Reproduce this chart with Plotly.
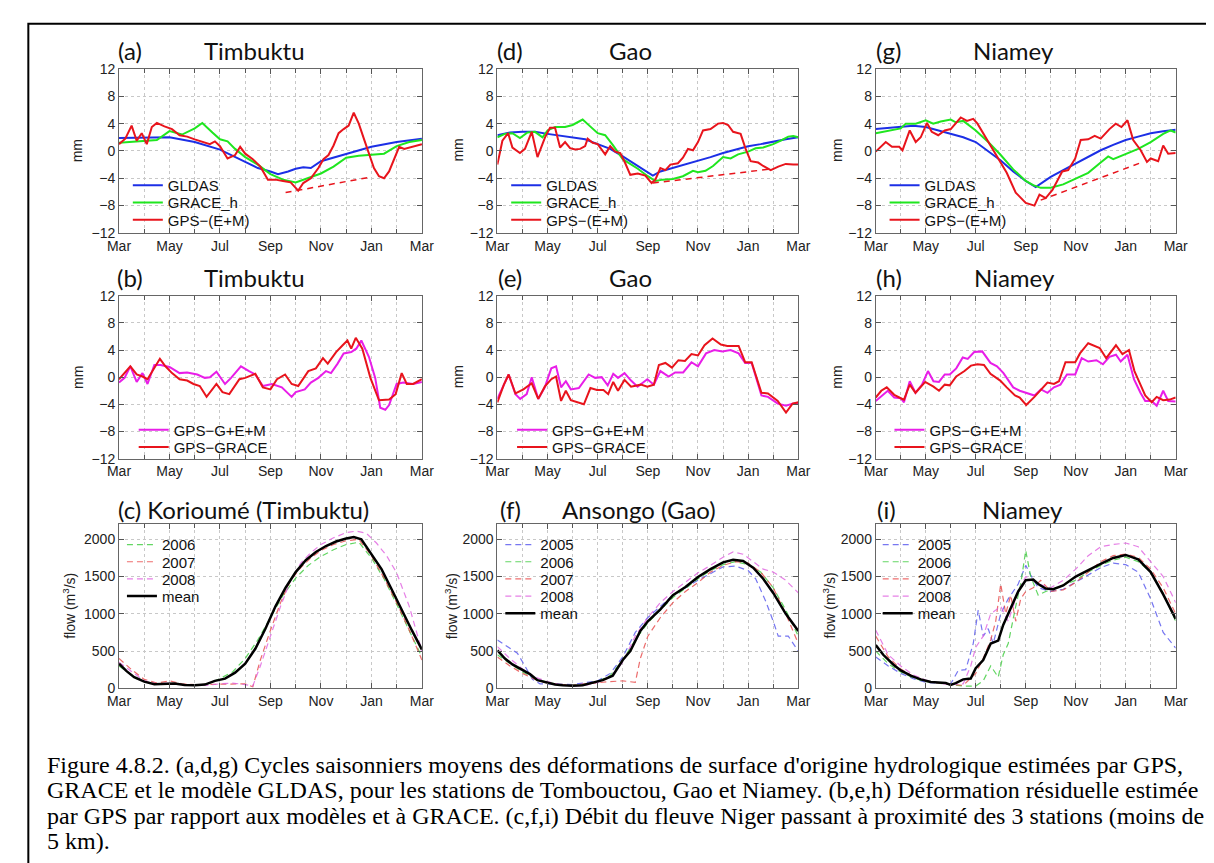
import plotly.graph_objects as go

W, H = 1214, 863

# ---------------- data ----------------
month_ticks = [0, 2, 4, 6, 8, 10, 12]
month_labels = ["Mar", "May", "Jul", "Sep", "Nov", "Jan", "Mar"]
mm_ticks = [-12, -8, -4, 0, 4, 8, 12]
flow_ticks = [0, 500, 1000, 1500, 2000]

# (a) Timbuktu
a_gldas_x = [0, 1, 2, 3, 4, 5, 5.5, 6, 6.3, 6.7, 7, 7.3, 7.6, 8, 9, 10, 11, 12]
a_gldas_y = [1.9, 2.0, 2.0, 1.3, 0.2, -1.6, -2.5, -3.0, -3.4, -3.0, -2.6, -2.4, -2.5, -1.5, -0.4, 0.6, 1.3, 1.8]
a_grace_x = [0, 0.5, 1, 1.5, 2, 2.5, 3, 3.3, 3.7, 4, 4.3, 4.6, 5, 5.5, 6, 6.5, 7, 7.5, 8, 8.5, 9, 9.5, 10, 10.5, 11, 11.5, 12]
a_grace_y = [1.2, 1.3, 1.5, 1.6, 2.9, 2.4, 3.3, 4.1, 2.7, 1.7, 1.4, 0.3, -0.9, -2.0, -3.4, -4.2, -4.6, -4.0, -3.3, -2.3, -1.0, -0.7, -0.5, -0.4, 0.7, 1.3, 1.6]
a_gps_x = [0, 0.25, 0.5, 0.7, 0.9, 1.1, 1.3, 1.5, 1.8, 2.1, 2.4, 2.7, 3.0, 3.3, 3.6, 3.8, 4.0, 4.3, 4.6, 4.8,
           5.0, 5.3, 5.6, 5.9, 6.2, 6.5, 6.8, 7.1, 7.3, 7.6, 7.9, 8.1, 8.3, 8.5, 8.7, 8.9, 9.1, 9.3, 9.5, 9.7,
           9.9, 10.1, 10.3, 10.5, 10.7, 10.9, 11.1, 11.3, 11.6, 12]
a_gps_y = [1.0, 1.8, 3.7, 1.5, 2.6, 1.0, 3.5, 4.1, 3.6, 3.2, 2.3, 2.1, 1.7, 1.3, 1.0, 1.4, 0.7, -1.1, -0.6, 0.6,
           -0.4, -1.2, -2.3, -4.2, -4.2, -4.4, -4.6, -5.8, -4.7, -4.0, -2.5, -1.2, -0.6, 0.8, 2.6, 3.2, 3.7, 5.6, 4.0, 1.8,
           -0.4, -2.5, -3.7, -4.0, -3.0, -1.3, 0.6, 0.3, 0.6, 1.0]
a_trend_x = [6.6, 10.0]
a_trend_y = [-6.1, -3.8]

# (d) Gao
d_gldas_x = [0, 0.5, 1, 1.5, 2, 2.5, 3, 3.5, 4, 4.5, 5, 5.5, 6, 6.2, 6.5, 7, 7.5, 8, 8.5, 9, 9.5, 10, 10.5, 11, 11.5, 12]
d_gldas_y = [2.3, 2.7, 2.8, 2.8, 2.5, 2.2, 2.0, 1.7, 1.0, 0.3, -0.8, -2.0, -3.2, -3.6, -3.0, -2.5, -2.0, -1.4, -0.9, -0.3, 0.2, 0.7, 1.0, 1.4, 1.7, 2.0]
d_grace_x = [0, 0.3, 0.6, 0.9, 1.2, 1.5, 1.8, 2.0, 2.3, 2.7, 3.0, 3.4, 3.7, 4.0, 4.3, 4.6, 5.0, 5.3, 5.6, 6.0,
             6.3, 6.6, 7.0, 7.4, 7.8, 8.0, 8.3, 8.6, 9.0, 9.3, 9.6, 10.0, 10.3, 10.6, 11.0, 11.3, 11.6, 11.8, 12]
d_grace_y = [2.0, 2.5, 2.6, 1.9, 2.7, 2.8, 2.0, 3.0, 3.5, 3.5, 3.8, 4.6, 3.6, 2.6, 2.3, 0.9, -1.2, -1.9, -2.6, -3.7,
             -4.4, -4.2, -4.1, -3.7, -2.9, -3.1, -2.9, -2.2, -0.9, -1.1, -0.5, -0.1, 0.4, 0.5, 1.0, 1.5, 2.1, 2.2, 2.0]
d_gps_x = [0, 0.2, 0.43, 0.6, 0.9, 1.1, 1.37, 1.6, 1.9, 2.1, 2.3, 2.5, 2.7, 2.9, 3.1, 3.3, 3.5, 3.6, 3.8, 4.0,
           4.3, 4.5, 4.7, 4.9, 5.1, 5.3, 5.6, 5.9, 6.15, 6.3, 6.5, 6.7, 6.9, 7.2, 7.4, 7.6, 7.8, 8.0, 8.2, 8.5,
           8.8, 9.0, 9.2, 9.4, 9.7, 9.9, 10.1, 10.4, 10.6, 10.9, 11.2, 11.5, 11.8, 12]
d_gps_y = [-2.0, 1.5, 2.6, 0.5, -0.3, 0.3, 2.8, -0.9, 2.0, 3.4, 3.4, 0.5, 1.3, 0.4, 0.2, 0.3, 0.7, 1.8, 1.2, 1.0,
           -0.5, 0.7, -0.1, -0.3, -1.8, -3.5, -3.3, -3.6, -4.7, -4.2, -2.5, -2.8, -2.0, -1.8, -1.0, 0.3, 0.1, 1.3, 3.0, 3.2,
           4.0, 4.1, 3.8, 2.8, 2.5, 0.3, -1.5, -1.7, -2.2, -2.8, -2.3, -1.9, -2.0, -2.0]
d_trend_x = [6.2, 11.0]
d_trend_y = [-4.7, -2.6]

# (g) Niamey
g_gldas_x = [0, 0.5, 1, 1.5, 2, 2.5, 3, 3.5, 4, 4.5, 5, 5.5, 6, 6.4, 6.7, 7, 7.5, 8, 8.5, 9, 9.5, 10, 10.5, 11, 11.5, 12]
g_gldas_y = [3.2, 3.4, 3.6, 3.7, 3.5, 3.0, 2.6, 2.0, 1.3, -0.1, -1.4, -3.0, -4.4, -5.3, -4.6, -3.8, -2.8, -1.8, -0.8, 0.1, 0.9, 1.6, 2.1, 2.6, 2.9, 3.1]
g_grace_x = [0, 0.5, 1, 1.2, 1.6, 2, 2.3, 2.6, 3, 3.2, 3.5, 4, 4.5, 5, 5.5, 6, 6.3, 6.6, 7, 7.5,
             8, 8.5, 9, 9.3, 9.5, 10, 10.5, 11, 11.5, 11.8, 12]
g_grace_y = [2.6, 2.9, 3.3, 4.0, 4.0, 4.5, 4.0, 4.3, 4.6, 4.2, 4.4, 3.0, 1.3, -0.6, -2.7, -4.4, -5.0, -5.4, -5.4, -4.9,
             -4.0, -3.2, -1.7, -0.8, -1.2, -0.4, 0.3, 1.3, 2.5, 3.0, 2.7]
g_gps_x = [0, 0.4, 0.65, 0.94, 1.07, 1.36, 1.6, 1.8, 2.05, 2.24, 2.5, 2.76, 3.0, 3.4, 3.65, 3.9, 4.07, 4.46, 4.85, 5.24,
           5.6, 6.0, 6.35, 6.55, 6.8, 7.07, 7.46, 7.7, 7.98, 8.2, 8.5, 8.76, 9.0, 9.35, 9.6, 9.83, 10.07, 10.3, 10.6, 10.85,
           11.0, 11.3, 11.5, 11.7, 12]
g_gps_y = [-0.1, 1.3, 0.6, 0.6, 0.1, 3.0, 1.3, 2.0, 4.1, 2.8, 2.3, 3.0, 3.2, 4.9, 4.4, 4.7, 4.0, 1.6, -0.8, -3.2,
           -6.1, -7.6, -8.0, -6.4, -6.9, -5.7, -3.0, -2.8, -1.1, 1.6, 1.7, 2.2, 1.8, 3.2, 4.0, 3.5, 4.5, 1.6, 0.1, -1.6,
           -1.1, -1.5, 0.8, -0.4, -0.3]
g_trend_x = [6.6, 10.7]
g_trend_y = [-7.2, -1.6]

# (b) Timbuktu residuals
b_mag_x = [0, 0.22, 0.45, 0.7, 0.93, 1.13, 1.4, 1.65, 2.0, 2.4, 2.7, 3.1, 3.4, 3.6, 3.86, 4.2, 4.44, 4.83, 5.15, 5.4,
           5.7, 6.06, 6.45, 6.84, 7.0, 7.36, 7.6, 7.9, 8.2, 8.4, 8.66, 8.9, 9.2, 9.4, 9.6, 9.9, 10.15, 10.35, 10.55, 10.7,
           11.0, 11.26, 11.65, 12]
b_mag_y = [-0.8, -0.1, 1.6, -0.7, 0.6, -1.0, 1.8, 1.8, 1.5, 0.6, 0.7, 0.4, -0.1, 0.0, 0.8, -1.0, -0.1, 1.6, 0.9, 0.4,
           -1.3, -1.0, -1.5, -2.9, -2.2, -1.8, -0.8, -0.1, 0.9, 0.6, 2.0, 3.5, 3.7, 4.2, 5.4, 3.0, -0.1, -4.5, -4.8, -4.1,
           -1.0, -0.8, -1.0, -0.7]
b_red_x = [0, 0.45, 0.7, 0.93, 1.13, 1.4, 1.62, 1.84, 2.1, 2.4, 2.7, 2.95, 3.2, 3.47, 3.86, 4.1, 4.37, 4.77, 5.0, 5.4,
           5.7, 6.0, 6.26, 6.58, 6.84, 7.1, 7.5, 7.8, 8.08, 8.27, 8.6, 8.86, 9.05, 9.2, 9.38, 9.64, 9.96, 10.3, 10.7, 10.96,
           11.2, 11.4, 11.65, 12]
b_red_y = [-0.3, 1.6, 0.4, 0.1, -0.3, 1.3, 2.7, 1.6, 0.6, -0.3, -0.5, -1.0, -1.3, -2.9, -1.0, -2.2, -2.5, -0.3, -0.1, 0.5,
           -1.5, -1.8, -0.3, 0.4, -1.0, -1.3, 0.9, 1.3, 2.8, 2.0, 3.7, 4.7, 5.4, 4.2, 5.8, 4.2, -0.1, -3.4, -3.3, -2.5,
           0.6, -1.0, -1.0, -0.3]

# (e) Gao residuals
e_mag_x = [0, 0.26, 0.45, 0.72, 0.91, 1.17, 1.37, 1.63, 1.89, 2.15, 2.34, 2.54, 2.73, 2.93, 3.25, 3.64, 3.9, 4.16, 4.4, 4.62,
           4.81, 5.07, 5.33, 5.59, 5.98, 6.24, 6.5, 6.83, 7.09, 7.41, 7.74, 8.0, 8.32, 8.65, 8.97, 9.3, 9.62, 9.88, 10.14, 10.53,
           10.79, 11.18, 11.51, 11.77, 12]
e_mag_y = [-3.2, -1.1, 0.4, -2.5, -3.2, -2.5, 0.0, -3.2, -1.5, 1.3, 1.6, -1.5, -0.6, -1.8, -1.6, 0.4, -0.1, 0.0, -1.2, 0.5,
           -0.1, 0.6, -0.5, -1.4, -0.3, -1.1, 0.9, 0.1, 0.7, 0.7, 2.2, 1.6, 3.5, 4.0, 3.8, 4.0, 3.5, 2.1, 2.1, -2.7,
           -2.9, -3.9, -4.2, -3.9, -3.8]
e_red_x = [0, 0.26, 0.45, 0.72, 1.04, 1.37, 1.63, 1.89, 2.15, 2.34, 2.54, 2.73, 2.93, 3.45, 3.71, 3.97, 4.23, 4.42, 4.62, 4.81,
           5.07, 5.33, 5.72, 5.98, 6.24, 6.44, 6.7, 6.96, 7.22, 7.48, 7.74, 8.0, 8.26, 8.58, 8.91, 9.17, 9.62, 9.88, 10.14, 10.53,
           10.79, 11.18, 11.51, 11.77, 12]
e_red_y = [-3.7, -1.1, 0.4, -2.4, -1.8, -0.9, -3.2, -1.4, -0.3, 0.1, -3.5, -2.0, -3.4, -4.0, -1.6, -1.9, -1.9, -2.5, -0.7, -2.0,
           -0.4, -1.4, -1.1, -1.4, -1.1, 1.8, 2.1, 1.4, 2.5, 2.4, 3.4, 3.2, 4.7, 5.7, 4.8, 4.6, 4.6, 2.2, 2.2, -2.3,
           -2.4, -3.5, -5.2, -3.9, -3.7]

# (h) Niamey residuals
h_mag_x = [0, 0.29, 0.48, 0.74, 1.0, 1.13, 1.36, 1.59, 1.85, 2.09, 2.31, 2.53, 2.76, 2.96, 3.22, 3.48, 3.68, 3.94, 4.26, 4.59,
           4.85, 5.11, 5.5, 5.76, 6.02, 6.35, 6.61, 6.87, 7.13, 7.39, 7.65, 7.98, 8.24, 8.5, 8.83, 9.09, 9.35, 9.61, 9.8, 10.07,
           10.33, 10.59, 10.78, 11.04, 11.24, 11.5, 11.7, 12]
h_mag_y = [-3.5, -2.6, -2.0, -3.0, -3.1, -3.7, -0.6, -2.3, -1.1, 0.9, -0.6, -0.7, 0.4, 0.4, 1.3, 2.9, 2.7, 3.7, 3.8, 2.1,
           1.6, 0.6, -1.5, -2.0, -2.3, -2.7, -1.8, -2.3, -1.5, -1.1, 0.4, 0.4, 2.8, 2.3, 2.5, 1.9, 3.0, 3.3, 2.3, 3.3,
           -0.3, -2.3, -3.5, -3.5, -4.2, -2.0, -3.5, -3.6]
h_red_x = [0, 0.22, 0.44, 0.74, 1.0, 1.13, 1.36, 1.59, 1.98, 2.31, 2.53, 2.76, 2.96, 3.22, 3.55, 3.81, 4.07, 4.33, 4.59, 4.98,
           5.24, 5.57, 5.76, 6.02, 6.35, 6.61, 6.87, 7.13, 7.33, 7.59, 7.98, 8.17, 8.5, 8.96, 9.22, 9.61, 9.87, 10.13, 10.35, 10.59,
           10.78, 11.04, 11.24, 11.5, 11.76, 12]
h_red_y = [-3.0, -2.0, -1.5, -2.6, -3.1, -3.3, -1.1, -2.3, -0.7, -1.4, -2.0, -1.1, -1.2, 0.1, 0.9, 1.7, 1.9, 1.8, 0.5, -0.5,
           -1.5, -2.7, -3.0, -4.1, -2.9, -1.9, -0.8, -1.0, -0.6, 2.2, 2.2, 3.5, 5.0, 4.3, 2.8, 4.7, 3.4, 4.0, 0.9, -1.1,
           -2.7, -3.7, -2.9, -3.4, -3.3, -3.0]

# (c) Korioume flow
c_mean_x = [0, 0.3, 0.6, 1.0, 1.4, 1.8, 2.2, 2.6, 3.0, 3.4, 3.8, 4.2, 4.6, 5.0, 5.4, 5.8, 6.2, 6.6, 7.0, 7.4,
            7.8, 8.2, 8.6, 9.0, 9.3, 9.6, 10.0, 10.4, 10.8, 11.2, 11.6, 12]
c_mean_y = [330, 230, 150, 90, 55, 60, 65, 45, 40, 50, 100, 130, 210, 330, 530, 800, 1100, 1350, 1560, 1720,
            1830, 1910, 1970, 2010, 2030, 2000, 1800, 1600, 1330, 1050, 780, 520]
c_2006_x = [0, 0.5, 1, 1.5, 2, 2.5, 3, 3.5, 4, 4.5, 5, 5.5, 6, 6.5, 7, 7.5, 8, 8.5, 9, 9.5, 10, 10.5, 11, 11.5, 12]
c_2006_y = [300, 180, 90, 60, 60, 50, 40, 60, 130, 220, 400, 650, 950, 1250, 1480, 1650, 1770, 1860, 1930, 1960, 1750, 1470, 1130, 780, 420]
c_2007_x = [0, 0.5, 1, 1.5, 2, 2.5, 3, 3.5, 4, 4.5, 5, 5.3, 5.6, 6, 6.4, 6.8, 7.2, 7.6, 8, 8.5, 9, 9.5, 10, 10.5, 11, 11.5, 12]
c_2007_y = [400, 250, 120, 70, 100, 60, 50, 50, 60, 60, 60, 20, 380, 780, 1150, 1450, 1620, 1750, 1850, 1930, 1980, 2000, 1780, 1480, 1150, 780, 380]
c_2008_x = [0, 0.5, 1, 1.5, 2, 2.5, 3, 3.5, 4, 4.5, 5, 5.3, 5.6, 6, 6.4, 6.8, 7.2, 7.6, 8, 8.5, 9, 9.4, 9.8, 10.2, 10.6, 11, 11.5, 12]
c_2008_y = [350, 220, 100, 60, 70, 50, 40, 40, 60, 70, 50, 30, 300, 700, 1100, 1450, 1680, 1820, 1930, 2020, 2090, 2110, 2080, 1950, 1780, 1550, 1100, 500]

# (f) Ansongo flow
f_mean_x = [0, 0.3, 0.6, 1.0, 1.3, 1.6, 2.0, 2.3, 2.6, 3.0, 3.4, 3.8, 4.2, 4.6, 5.0, 5.3, 5.7, 6.0, 6.5, 7.0,
            7.5, 8.0, 8.5, 9.0, 9.4, 9.8, 10.2, 10.6, 11.0, 11.5, 12]
f_mean_y = [510, 400, 320, 240, 190, 110, 80, 50, 40, 35, 40, 70, 110, 170, 380, 500, 770, 900, 1060, 1250,
            1360, 1495, 1600, 1690, 1725, 1710, 1620, 1470, 1280, 1000, 770]
f_2005_x = [0, 0.4, 0.8, 1.1, 1.4, 1.7, 2, 3, 4, 4.5, 5, 5.5, 6, 6.5, 7, 8, 9, 9.5, 10, 10.3, 10.7, 11.0, 11.2, 11.6, 12]
f_2005_y = [650, 560, 470, 300, 120, 60, 60, 50, 100, 200, 420, 750, 950, 1100, 1250, 1450, 1630, 1640, 1580, 1470, 1170, 900, 700, 700, 500]
f_2006_x = [0, 0.5, 1, 1.5, 2, 2.5, 3, 3.5, 4, 4.5, 5, 5.5, 6, 6.5, 7, 7.5, 8, 8.5, 9, 9.5, 10, 10.5, 11, 11.5, 12]
f_2006_y = [450, 330, 220, 130, 80, 50, 40, 50, 90, 170, 380, 650, 880, 1050, 1220, 1340, 1470, 1580, 1660, 1700, 1660, 1560, 1350, 1050, 700]
f_2007_x = [0, 0.5, 1, 1.5, 2, 2.5, 3, 3.5, 4, 4.5, 5, 5.5, 5.7, 6, 6.5, 7, 7.5, 8, 8.5, 9, 9.5, 10, 10.5, 11, 11.5, 12]
f_2007_y = [420, 300, 200, 120, 70, 50, 40, 60, 80, 90, 100, 80, 400, 700, 950, 1150, 1300, 1420, 1560, 1650, 1700, 1680, 1560, 1350, 1000, 600]
f_2008_x = [0, 0.5, 1, 1.5, 2, 2.5, 3, 3.5, 4, 4.5, 5, 5.5, 6, 6.5, 7, 7.5, 8, 8.5, 9, 9.4, 9.8, 10.2, 10.6, 11, 11.5, 12]
f_2008_y = [560, 400, 260, 150, 90, 50, 30, 40, 80, 150, 350, 700, 950, 1150, 1300, 1420, 1550, 1650, 1760, 1830, 1800, 1700, 1600, 1560, 1450, 1280]

# (i) Niamey flow
i_mean_x = [0, 0.3, 0.7, 1.0, 1.4, 1.8, 2.2, 2.5, 2.8, 3.0, 3.2, 3.5, 3.8, 4.0, 4.3, 4.6, 4.9, 5.1, 5.4, 5.7,
            6.0, 6.3, 6.5, 6.8, 7.1, 7.5, 8.0, 8.5, 9.0, 9.5, 10.0, 10.5, 11.0, 11.5, 12]
i_mean_y = [580, 450, 320, 240, 170, 120, 85, 80, 70, 45, 70, 120, 130, 270, 380, 600, 640, 850, 1080, 1300,
            1450, 1460, 1400, 1340, 1330, 1380, 1500, 1590, 1670, 1750, 1790, 1730, 1560, 1260, 930]
i_2005_x = [0, 0.5, 1, 1.5, 2, 2.5, 3, 3.3, 3.6, 3.9, 4.1, 4.3, 4.5, 4.7, 5.0, 5.3, 5.5, 5.7, 6.0, 6.2,
            6.5, 7, 7.5, 8, 8.5, 9, 9.5, 10, 10.5, 11, 11.5, 12]
i_2005_y = [420, 300, 200, 130, 80, 70, 60, 240, 250, 600, 1050, 700, 800, 600, 1000, 1200, 1300, 1400, 1650, 1520,
            1350, 1300, 1330, 1420, 1520, 1620, 1680, 1660, 1560, 1200, 750, 540]
i_2006_x = [0, 0.5, 1, 1.5, 2, 2.5, 3, 3.5, 4, 4.3, 4.6, 4.9, 5.1, 5.3, 5.6, 5.8, 6.0, 6.2, 6.5, 6.8,
            7, 7.5, 8, 8.5, 9, 9.5, 10, 10.5, 11, 11.5, 12]
i_2006_y = [500, 330, 220, 140, 90, 70, 50, 30, 30, 100, 300, 150, 450, 600, 1100, 1400, 1850, 1500, 1250, 1300,
            1320, 1380, 1450, 1560, 1650, 1720, 1760, 1700, 1560, 1280, 900]
i_2007_x = [0, 0.5, 1, 1.5, 2, 2.5, 3, 3.5, 4, 4.3, 4.6, 4.8, 5.0, 5.2, 5.4, 5.6, 5.8, 6.0, 6.3, 6.6,
            7, 7.5, 8, 8.5, 9, 9.5, 10, 10.5, 11, 11.5, 12]
i_2007_y = [700, 420, 260, 160, 100, 70, 50, 40, 200, 400, 650, 900, 1400, 1000, 1250, 900, 1200, 1300, 1350, 1450,
            1300, 1320, 1420, 1560, 1700, 1780, 1800, 1760, 1600, 1350, 1000]
i_2008_x = [0, 0.5, 1, 1.5, 2, 2.5, 3, 3.5, 3.8, 4.0, 4.3, 4.6, 5.0, 5.3, 5.7, 6.0, 6.5, 7.0, 7.5, 8,
            8.5, 9, 9.5, 10, 10.5, 11, 11.5, 12]
i_2008_y = [780, 450, 300, 180, 110, 70, 50, 60, 300, 550, 700, 1000, 1100, 900, 1300, 1500, 1400, 1350, 1450, 1600,
            1780, 1900, 1930, 1950, 1900, 1700, 1500, 1150]

caption_lines = [
    "Figure 4.8.2. (a,d,g) Cycles saisonniers moyens des déformations de surface d'origine hydrologique estimées par GPS,",
    "GRACE et le modèle GLDAS, pour les stations de Tombouctou, Gao et Niamey. (b,e,h) Déformation résiduelle estimée",
    "par GPS par rapport aux modèles et à GRACE. (c,f,i) Débit du fleuve Niger passant à proximité des 3 stations (moins de",
    "5 km).",
]

# ---------------- styling / layout ----------------
BLUE = "#1c2fe6"
GREEN = "#1fe61f"
RED = "#e8141c"
MAG = "#e81ee8"
TICKFONT = dict(family="Liberation Sans, Arial, sans-serif", size=14, color="#222")
TITLEFONT = dict(family="Lato, Open Sans, sans-serif", size=24, color="#111")
LEGFONT = dict(family="Liberation Sans, Arial, sans-serif", size=15, color="#111")
GRID = "#c8c8c8"

COL_PX = [(101, 410), (487, 794), (873, 1179)]
ROW_PX = [(54, 221), (285, 451), (518, 685)]

fig = go.Figure()
layout = dict(width=W, height=H, margin=dict(l=0, r=0, t=0, b=0),
              paper_bgcolor="white", plot_bgcolor="white", showlegend=True)


def suffix(k):
    return "" if k == 1 else str(k)


for k in range(1, 10):
    col, row = (k - 1) // 3, (k - 1) % 3
    x0, x1 = COL_PX[col]
    y0, y1 = ROW_PX[row]
    layout["xaxis" + suffix(k)] = dict(
        domain=[x0 / W, x1 / W], anchor="y" + suffix(k), range=[0, 12],
        tickmode="array", tickvals=month_ticks, ticktext=month_labels,
        ticks="inside", ticklen=5, tickcolor="#555", showline=True, linecolor="#666",
        linewidth=1, mirror="ticks", showgrid=True, gridcolor=GRID, griddash="dot",
        gridwidth=1, zeroline=False, tickfont=TICKFONT, fixedrange=True,
        minor=dict(tickmode="linear", tick0=0, dtick=1, ticks="inside", ticklen=4,
                   tickcolor="#555", showgrid=True, gridcolor=GRID, griddash="dot", gridwidth=1))
    if row < 2:
        yr, yt = [-12, 12], mm_ticks
    else:
        yr, yt = [0, 2200], flow_ticks
    layout["yaxis" + suffix(k)] = dict(
        domain=[1 - y1 / H, 1 - y0 / H], anchor="x" + suffix(k), range=yr,
        tickmode="array", tickvals=yt, ticks="inside", ticklen=5, tickcolor="#555",
        showline=True, linecolor="#666", linewidth=1, mirror="ticks", showgrid=True,
        gridcolor=GRID, griddash="dot", gridwidth=1, zeroline=False, tickfont=TICKFONT,
        fixedrange=True)

# legend anchor per panel: (text start x px, first row centre y px)
LEG_POS = {1: (162, 169), 4: (548, 169), 7: (934, 169),
           2: (168, 418), 5: (554, 418), 8: (939, 418),
           3: (156, 535), 6: (542, 535), 9: (927, 535)}
ROW_STEP = 17.5
leg_counter = [0]
slot_in_panel = {}


def add(k, x, y, name, color, width=2, dash="solid", show=True, opacity=1.0):
    tr = dict(x=x, y=y, mode="lines", name=name, opacity=opacity,
              line=dict(color=color, width=width, dash=dash),
              xaxis="x" + suffix(k), yaxis="y" + suffix(k), hoverinfo="skip", showlegend=show)
    if show:
        leg_counter[0] += 1
        n = leg_counter[0]
        lname = "legend" + ("" if n == 1 else str(n))
        slot = slot_in_panel.get(k, 0)
        slot_in_panel[k] = slot + 1
        tx, ty = LEG_POS[k]
        cy = ty + slot * ROW_STEP
        layout[lname] = dict(
            x=(tx - 52) / W, y=1 - (cy - 13) / H, xanchor="left", yanchor="top",
            bgcolor="rgba(0,0,0,0)", borderwidth=0, itemwidth=30, font=LEGFONT)
        tr["legend"] = lname
    fig.add_trace(go.Scatter(**tr))


# panel (a)
add(1, a_gldas_x, a_gldas_y, "GLDAS", BLUE)
add(1, a_grace_x, a_grace_y, "GRACE_h", GREEN)
add(1, a_gps_x, a_gps_y, "GPS−(E+M)", RED)
add(1, a_trend_x, a_trend_y, "trend", RED, 1.5, "6px,5px", False)
# panel (d)
add(4, d_gldas_x, d_gldas_y, "GLDAS", BLUE)
add(4, d_grace_x, d_grace_y, "GRACE_h", GREEN)
add(4, d_gps_x, d_gps_y, "GPS−(E+M)", RED)
add(4, d_trend_x, d_trend_y, "trend", RED, 1.5, "6px,5px", False)
# panel (g)
add(7, g_gldas_x, g_gldas_y, "GLDAS", BLUE)
add(7, g_grace_x, g_grace_y, "GRACE_h", GREEN)
add(7, g_gps_x, g_gps_y, "GPS−(E+M)", RED)
add(7, g_trend_x, g_trend_y, "trend", RED, 1.5, "6px,5px", False)
# panels (b), (e), (h)
add(2, b_mag_x, b_mag_y, "GPS−G+E+M", MAG)
add(2, b_red_x, b_red_y, "GPS−GRACE", RED)
add(5, e_mag_x, e_mag_y, "GPS−G+E+M", MAG)
add(5, e_red_x, e_red_y, "GPS−GRACE", RED)
add(8, h_mag_x, h_mag_y, "GPS−G+E+M", MAG)
add(8, h_red_x, h_red_y, "GPS−GRACE", RED)

C05, C06, C07, C08 = "#5555ee", "#3ccc3c", "#e84848", "#e060e0"
DASH = "6px,4px"
# panel (c)
add(3, c_2006_x, c_2006_y, "2006", C06, 1.2, DASH, opacity=0.8)
add(3, c_2007_x, c_2007_y, "2007", C07, 1.2, DASH, opacity=0.8)
add(3, c_2008_x, c_2008_y, "2008", C08, 1.2, DASH, opacity=0.8)
add(3, c_mean_x, c_mean_y, "mean", "#000000", 2.5)
# panel (f)
add(6, f_2005_x, f_2005_y, "2005", C05, 1.2, DASH, opacity=0.8)
add(6, f_2006_x, f_2006_y, "2006", C06, 1.2, DASH, opacity=0.8)
add(6, f_2007_x, f_2007_y, "2007", C07, 1.2, DASH, opacity=0.8)
add(6, f_2008_x, f_2008_y, "2008", C08, 1.2, DASH, opacity=0.8)
add(6, f_mean_x, f_mean_y, "mean", "#000000", 2.5)
# panel (i)
add(9, i_2005_x, i_2005_y, "2005", C05, 1.2, DASH, opacity=0.8)
add(9, i_2006_x, i_2006_y, "2006", C06, 1.2, DASH, opacity=0.8)
add(9, i_2007_x, i_2007_y, "2007", C07, 1.2, DASH, opacity=0.8)
add(9, i_2008_x, i_2008_y, "2008", C08, 1.2, DASH, opacity=0.8)
add(9, i_mean_x, i_mean_y, "mean", "#000000", 2.5)

annotations = []


def txt(text, x, y, font, xanchor="center", yanchor="middle", angle=0):
    annotations.append(dict(text=text, x=x / W, y=1 - y / H, xref="paper", yref="paper",
                            xanchor=xanchor, yanchor=yanchor, showarrow=False,
                            font=font, textangle=angle))


# panel titles
txt("(a)", 112, 35, TITLEFONT); txt("Timbuktu", 239, 35, TITLEFONT)
txt("(d)", 500, 35, TITLEFONT); txt("Gao", 623, 35, TITLEFONT)
txt("(g)", 886, 35, TITLEFONT); txt("Niamey", 1014, 35, TITLEFONT)
txt("(b)", 112, 266, TITLEFONT); txt("Timbuktu", 239, 266, TITLEFONT)
txt("(e)", 500, 266, TITLEFONT); txt("Gao", 623, 266, TITLEFONT)
txt("(h)", 887, 266, TITLEFONT); txt("Niamey", 1015, 266, TITLEFONT)
txt("(c) Korioumé (Timbuktu)", 98, 503, TITLEFONT, xanchor="left")
txt("(f)", 500, 503, TITLEFONT); txt("Ansongo (Gao)", 631, 503, TITLEFONT)
txt("(i)", 884, 503, TITLEFONT); txt("Niamey", 1023, 503, TITLEFONT)

# y-axis titles
LBL = dict(family="Liberation Sans, Arial, sans-serif", size=14, color="#222")
for cx in (59, 447, 834):
    txt("mm", cx, 137, LBL, angle=-90)
    txt("mm", cx, 368, LBL, angle=-90)
for cx in (50, 440, 825):
    txt("flow (m<sup>3</sup>/s)", cx, 601, LBL, angle=-90)

# caption
CAP = dict(family="Liberation Serif, Times New Roman, serif", size=24, color="#000")
for i, line in enumerate(caption_lines):
    txt(line, 26, 763 + 26 * i, CAP, xanchor="left")

layout["annotations"] = annotations
layout["shapes"] = [dict(type="rect", xref="paper", yref="paper",
                         x0=8.5 / W, x1=1222 / W, y0=1 - 875 / H, y1=1 - 8 / H,
                         line=dict(color="#000", width=2), fillcolor="rgba(0,0,0,0)")]

fig.update_layout(**layout)
fig.write_html("out.html")
